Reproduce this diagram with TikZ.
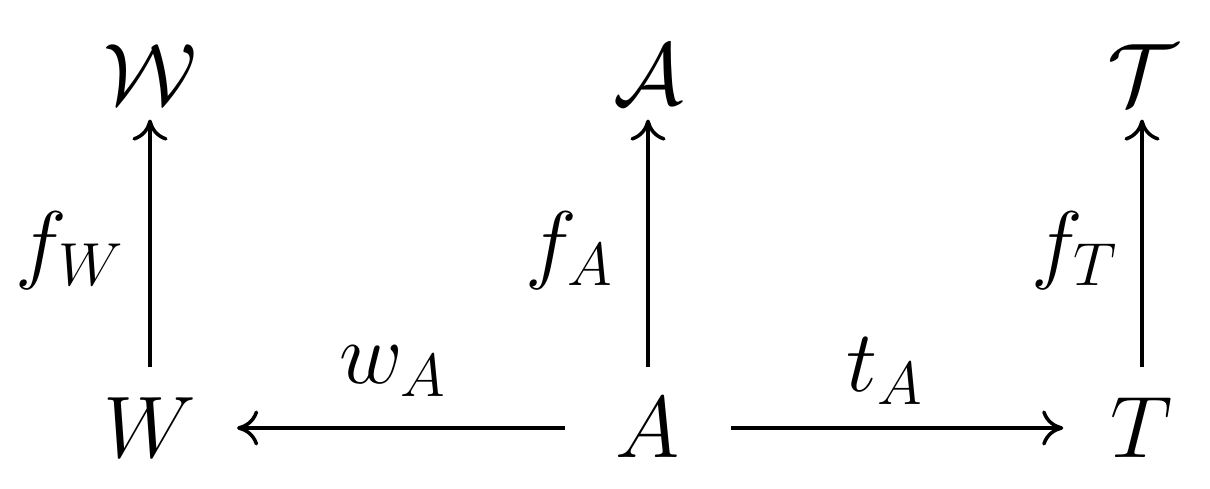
\documentclass[tikz,border=0pt]{standalone}
\usetikzlibrary{arrows.meta}
\begin{document}
\begin{tikzpicture}[
  obj/.style={inner sep=0pt,font=\fontsize{25}{30}\selectfont},
  lab/.style={inner sep=0pt,font=\fontsize{25}{30}\selectfont},
  arr/.style={line width=0.9pt,-{To[length=6pt,width=10pt,line width=1pt]}},
]
\useasboundingbox (0,0) rectangle (12.1,4.89);
\node[obj] (W) at (1.50,0.61) {$W$};
\node[obj] (A) at (6.48,0.61) {$A$};
\node[obj] (T) at (11.42,0.61) {$T$};
\node[obj] (cW) at (1.50,4.14) {$\mathcal{W}$};
\node[obj] (cA) at (6.48,4.14) {$\mathcal{A}$};
\node[obj] (cT) at (11.42,4.14) {$\mathcal{T}$};
\draw[arr,shorten <=0.30cm,shorten >=0.14cm] (W) -- (cW);
\draw[arr,shorten <=0.30cm,shorten >=0.14cm] (A) -- (cA);
\draw[arr,shorten <=0.30cm,shorten >=0.14cm] (T) -- (cT);
\draw[arr,shorten <=0.50cm,shorten >=0.40cm] (A) -- (W);
\draw[arr,shorten <=0.50cm,shorten >=0.47cm] (A) -- (T);
\node[lab] (fW) at (0.70,2.38) {$f_W$};
\node[lab] (fA) at (5.70,2.38) {$f_A$};
\node[lab] (fT) at (10.75,2.38) {$f_T$};
\node[lab] (wA) at (3.93,1.18) {$w_A$};
\node[lab] (tA) at (8.85,1.18) {$t_A$};
\end{tikzpicture}
\end{document}
